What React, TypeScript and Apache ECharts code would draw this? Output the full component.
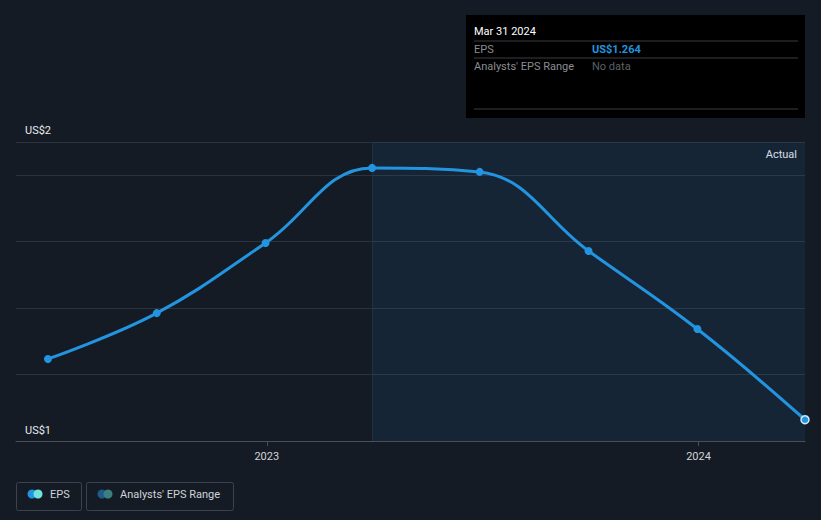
import React, { useEffect, useRef } from "react";
import * as echarts from "echarts";

const dates = ["2022-06-30", "2022-09-30", "2022-12-31", "2023-03-31", "2023-06-30", "2023-09-30", "2023-12-31", "2024-03-31"];
const eps = [1.447, 1.585, 1.796, 2.022, 2.01, 1.772, 1.537, 1.264];
const yTickLabels = ["US$2", "US$1"];
const xStart = "2022-06-03";
const xEnd = "2024-03-31";
const actualStart = "2023-03-31";
const actualLabel = "Actual";
const tooltipDate = "Mar 31 2024";
const tooltipEps = "US$1.264";
const legendItems = ["EPS", "Analysts' EPS Range"];

const BG = "#151b24";
const BLUE = "#2394df";

export default function App() {
  const ref = useRef<HTMLDivElement>(null);
  useEffect(() => {
    if (!ref.current) return;
    const chart = echarts.init(ref.current, null, { renderer: "svg" });
    const t = (s: string) => new Date(s + "T00:00:00Z").getTime();
    const data = dates.map((d, i) => [t(d), eps[i]]);
    const lastIdx = data.length - 1;
    chart.setOption({
      animation: false,
      backgroundColor: BG,
      grid: { left: 16, right: 16, top: 142, bottom: 79, containLabel: false },
      xAxis: {
        type: "time",
        min: t(xStart),
        max: t(xEnd),
        splitNumber: 2,
        axisLine: { show: true, lineStyle: { color: "#4a4f57", width: 1 } },
        axisTick: { show: true, length: 5, lineStyle: { color: "#4a4f57" } },
        axisLabel: {
          color: "#d0d3d8",
          fontSize: 11,
          fontFamily: "Roboto",
          margin: 10,
          formatter: (v: number) => {
            const d = new Date(v);
            return d.getUTCMonth() === 0 && d.getUTCDate() === 1 ? String(d.getUTCFullYear()) : "";
          },
        },
        splitLine: { show: false },
      },
      yAxis: {
        type: "value",
        min: 1.2,
        max: 2.1,
        interval: 0.2,
        axisLine: { show: false },
        axisTick: { show: false },
        axisLabel: { show: false },
        splitLine: { show: true, lineStyle: { color: "#2b323c", width: 1 } },
      },
      series: [
        {
          type: "line",
          data: data.map((p, i) =>
            i === lastIdx
              ? { value: p, itemStyle: { color: BLUE, borderColor: "#cfe9ff", borderWidth: 1.5 } }
              : p
          ),
          smooth: 0.4,
          symbol: "circle",
          symbolSize: 8,
          showSymbol: true,
          clip: false,
          lineStyle: { color: BLUE, width: 3 },
          itemStyle: { color: BLUE },
          z: 5,
          markArea: {
            silent: true,
            itemStyle: { color: "rgba(33,120,200,0.11)" },
            label: { show: false },
            data: [[{ xAxis: t(actualStart) }, { xAxis: t(xEnd) }]],
          },
          markLine: {
            silent: true,
            symbol: "none",
            label: { show: false },
            lineStyle: { color: "#1f3346", type: "solid", width: 1 },
            data: [{ xAxis: t(actualStart) }],
          },
        },
      ],
    });

    const pTop = chart.convertToPixel({ gridIndex: 0 }, [t(xStart), 2.1]) as number[];
    const pBot = chart.convertToPixel({ gridIndex: 0 }, [t(xStart), 1.2]) as number[];
    const pEnd = chart.convertToPixel({ gridIndex: 0 }, [t(xEnd), 2.1]) as number[];

    const tipX = 466;
    const tipY = 15;
    const tipW = 339;
    const tipH = 103;

    chart.setOption({
      graphic: [
        { type: "text", x: pTop[0] + 9, y: pTop[1] - 6, style: { text: yTickLabels[0], fill: "#e8eaed", fontSize: 11, fontFamily: "Roboto", verticalAlign: "bottom" } },
        { type: "text", x: pBot[0] + 9, y: pBot[1] - 5, style: { text: yTickLabels[1], fill: "#e8eaed", fontSize: 11, fontFamily: "Roboto", verticalAlign: "bottom" } },
        { type: "text", x: pEnd[0] - 8, y: pEnd[1] + 12, style: { text: actualLabel, fill: "#e8eaed", fontSize: 11, fontFamily: "Roboto", align: "right", verticalAlign: "middle" } },
        // tooltip box
        { type: "rect", shape: { x: tipX, y: tipY, width: tipW, height: tipH }, style: { fill: "#000000" }, z: 50 },
        { type: "text", x: tipX + 8, y: tipY + 16, z: 51, style: { text: tooltipDate, fill: "#ffffff", fontSize: 11, fontFamily: "Roboto", verticalAlign: "middle" } },
        { type: "line", z: 51, shape: { x1: tipX + 8, y1: tipY + 26, x2: tipX + 332, y2: tipY + 26 }, style: { stroke: "#3a3d42", lineWidth: 1 } },
        { type: "text", x: tipX + 8, y: tipY + 34, z: 51, style: { text: "EPS", fill: "#8a8d92", fontSize: 11, fontFamily: "Roboto", verticalAlign: "middle" } },
        { type: "text", x: tipX + 126, y: tipY + 34, z: 51, style: { text: tooltipEps, fill: BLUE, fontSize: 11, fontWeight: "bold", fontFamily: "Roboto", verticalAlign: "middle" } },
        { type: "line", z: 51, shape: { x1: tipX + 8, y1: tipY + 43, x2: tipX + 332, y2: tipY + 43 }, style: { stroke: "#3a3d42", lineWidth: 1 } },
        { type: "text", x: tipX + 8, y: tipY + 51, z: 51, style: { text: "Analysts' EPS Range", fill: "#8a8d92", fontSize: 11, fontFamily: "Roboto", verticalAlign: "middle" } },
        { type: "text", x: tipX + 126, y: tipY + 51, z: 51, style: { text: "No data", fill: "#5d6066", fontSize: 11, fontFamily: "Roboto", verticalAlign: "middle" } },
        { type: "line", z: 51, shape: { x1: tipX + 8, y1: tipY + 94, x2: tipX + 332, y2: tipY + 94 }, style: { stroke: "#3a3d42", lineWidth: 1 } },
        // legend
        { type: "rect", shape: { x: 16.5, y: 482.5, width: 65, height: 28, r: 2 }, style: { fill: "transparent", stroke: "#3c434d", lineWidth: 1 } },
        { type: "circle", shape: { cx: 32, cy: 494, r: 4.5 }, style: { fill: "#2394df" } },
        { type: "circle", shape: { cx: 38, cy: 494, r: 4.5 }, style: { fill: "#6fe3dc" } },
        { type: "text", x: 50, y: 494, style: { text: legendItems[0], fill: "#d0d3d8", fontSize: 11, fontFamily: "Roboto", verticalAlign: "middle" } },
        { type: "rect", shape: { x: 86.5, y: 482.5, width: 147, height: 28, r: 2 }, style: { fill: "transparent", stroke: "#3c434d", lineWidth: 1 } },
        { type: "circle", shape: { cx: 102, cy: 494, r: 4.5 }, style: { fill: "#1f5a8a" } },
        { type: "circle", shape: { cx: 108, cy: 494, r: 4.5 }, style: { fill: "#3c7f80" } },
        { type: "text", x: 120, y: 494, style: { text: legendItems[1], fill: "#d0d3d8", fontSize: 11, fontFamily: "Roboto", verticalAlign: "middle" } },
      ],
    });

    return () => chart.dispose();
  }, []);
  return <div ref={ref} style={{ width: 821, height: 520, position: "absolute", left: 0, top: 0 }} />;
}
